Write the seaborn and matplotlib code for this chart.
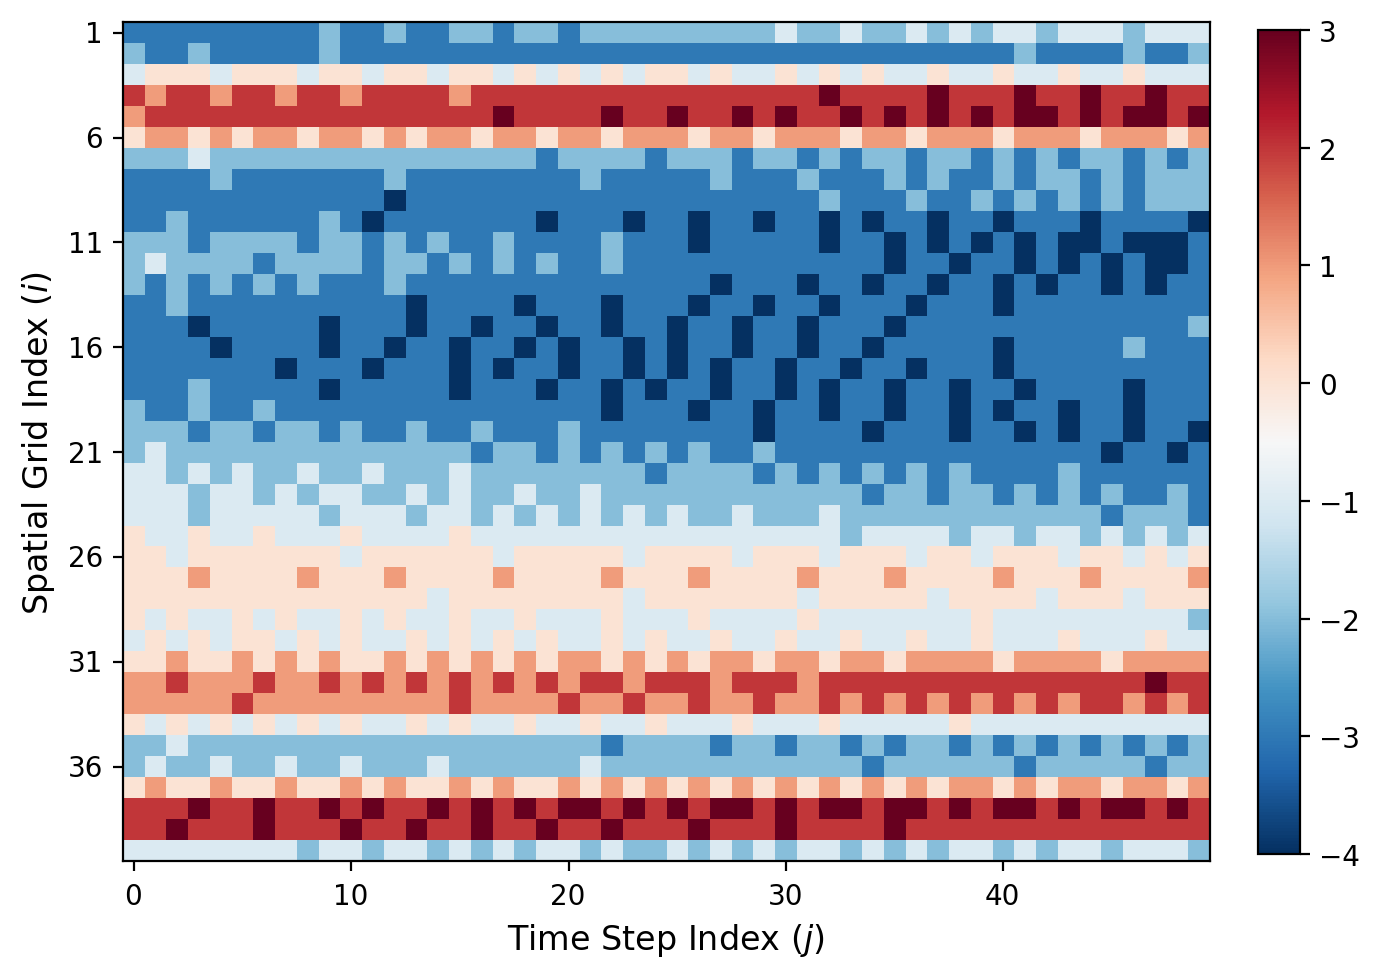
import numpy as np
import seaborn as sns
import matplotlib.pyplot as plt
from matplotlib.transforms import ScaledTranslation

# one row per spatial grid index, one column per time step
field = [
    [-3,-3,-3,-3,-3,-3,-3,-3,-3,-2, -3,-3,-2,-3,-3,-2,-2,-3,-2,-2, -3,-2,-2,-2,-2,-2,-2,-2,-2,-2, -1,-2,-2,-1,-2,-2,-1,-2,-1,-2, -1,-1,-2,-1,-1,-1,-2,-1,-1,-1],
    [-2,-3,-3,-2,-3,-3,-3,-3,-3,-2, -3,-3,-3,-3,-3,-3,-3,-3,-3,-3, -3,-3,-3,-3,-3,-3,-3,-3,-3,-3, -3,-3,-3,-3,-3,-3,-3,-3,-3,-3, -3,-2,-3,-3,-3,-3,-2,-3,-3,-2],
    [-1,0,0,0,-1,0,0,0,-1,0, 0,-1,0,0,-1,0,0,-1,0,-1, 0,-1,0,-1,0,0,-1,0,-1,-1, 0,-1,0,-1,0,-1,-1,0,-1,-1, 0,-1,-1,0,-1,-1,0,-1,-1,-1],
    [2,1,2,2,1,2,2,1,2,2, 1,2,2,2,2,1,2,2,2,2, 2,2,2,2,2,2,2,2,2,2, 2,2,3,2,2,2,2,3,2,2, 2,3,2,2,3,2,2,3,2,2],
    [1,2,2,2,2,2,2,2,2,2, 2,2,2,2,2,2,2,3,2,2, 2,2,3,2,2,3,2,2,3,2, 3,2,2,3,2,3,2,3,2,3, 2,3,3,2,3,2,3,3,2,3],
    [0,1,1,0,1,0,1,1,0,1, 1,0,1,0,1,1,0,1,1,0, 1,1,0,1,1,1,0,1,1,0, 1,1,1,0,1,1,0,1,1,1, 0,1,1,1,0,1,1,1,0,1],
    [-2,-2,-2,-1,-2,-2,-2,-2,-2,-2, -2,-2,-2,-2,-2,-2,-2,-2,-2,-3, -2,-2,-2,-2,-3,-2,-2,-2,-3,-2, -2,-3,-2,-3,-2,-2,-3,-2,-2,-3, -2,-3,-2,-3,-2,-2,-3,-2,-3,-2],
    [-3,-3,-3,-3,-2,-3,-3,-3,-3,-3, -3,-3,-2,-3,-3,-3,-3,-3,-3,-3, -3,-2,-3,-3,-3,-3,-3,-2,-3,-3, -3,-2,-3,-3,-3,-2,-3,-2,-3,-3, -2,-3,-2,-2,-3,-2,-3,-2,-2,-2],
    [-3,-3,-3,-3,-3,-3,-3,-3,-3,-3, -3,-3,-4,-3,-3,-3,-3,-3,-3,-3, -3,-3,-3,-3,-3,-3,-3,-3,-3,-3, -3,-3,-2,-3,-3,-3,-2,-3,-3,-2, -3,-2,-3,-2,-3,-2,-3,-2,-2,-2],
    [-3,-3,-2,-3,-3,-3,-3,-3,-3,-2, -3,-4,-3,-3,-3,-3,-3,-3,-3,-4, -3,-3,-3,-4,-3,-3,-4,-3,-3,-4, -3,-3,-4,-3,-4,-3,-3,-4,-3,-3, -4,-3,-3,-3,-4,-3,-3,-3,-3,-4],
    [-2,-2,-2,-3,-2,-2,-2,-2,-3,-2, -2,-3,-2,-3,-2,-3,-3,-2,-3,-3, -3,-3,-2,-3,-3,-3,-4,-3,-3,-3, -3,-3,-4,-3,-3,-4,-3,-4,-3,-4, -3,-4,-3,-4,-4,-3,-4,-4,-4,-3],
    [-2,-1,-2,-2,-2,-2,-3,-2,-2,-2, -2,-3,-2,-2,-3,-2,-3,-2,-3,-2, -3,-3,-2,-3,-3,-3,-3,-3,-3,-3, -3,-3,-3,-3,-3,-4,-3,-3,-4,-3, -3,-4,-3,-4,-3,-4,-3,-4,-4,-3],
    [-2,-3,-2,-3,-2,-3,-2,-3,-2,-3, -3,-3,-2,-3,-3,-3,-3,-3,-3,-3, -3,-3,-3,-3,-3,-3,-3,-4,-3,-3, -3,-4,-3,-3,-4,-3,-3,-4,-3,-3, -4,-3,-4,-3,-3,-4,-3,-4,-3,-3],
    [-3,-3,-2,-3,-3,-3,-3,-3,-3,-3, -3,-3,-3,-4,-3,-3,-3,-3,-4,-3, -3,-3,-4,-3,-3,-3,-4,-3,-3,-4, -3,-3,-4,-3,-3,-3,-4,-3,-3,-3, -4,-3,-3,-3,-3,-3,-3,-3,-3,-3],
    [-3,-3,-3,-4,-3,-3,-3,-3,-3,-4, -3,-3,-3,-4,-3,-3,-4,-3,-3,-4, -3,-3,-4,-3,-3,-4,-3,-3,-4,-3, -3,-4,-3,-3,-3,-4,-3,-3,-3,-3, -3,-3,-3,-3,-3,-3,-3,-3,-3,-2],
    [-3,-3,-3,-3,-4,-3,-3,-3,-3,-4, -3,-3,-4,-3,-3,-4,-3,-3,-4,-3, -4,-3,-3,-4,-3,-4,-3,-3,-4,-3, -3,-4,-3,-3,-4,-3,-3,-3,-3,-3, -4,-3,-3,-3,-3,-3,-2,-3,-3,-3],
    [-3,-3,-3,-3,-3,-3,-3,-4,-3,-3, -3,-4,-3,-3,-3,-4,-3,-4,-3,-3, -4,-3,-3,-4,-3,-4,-3,-4,-3,-3, -4,-3,-3,-4,-3,-3,-4,-3,-3,-3, -4,-3,-3,-3,-3,-3,-3,-3,-3,-3],
    [-3,-3,-3,-2,-3,-3,-3,-3,-3,-4, -3,-3,-3,-3,-3,-4,-3,-3,-3,-4, -3,-3,-4,-3,-4,-3,-3,-4,-3,-3, -4,-3,-4,-3,-3,-4,-3,-3,-4,-3, -3,-4,-3,-3,-3,-3,-4,-3,-3,-3],
    [-2,-3,-3,-2,-3,-3,-2,-3,-3,-3, -3,-3,-3,-3,-3,-3,-3,-3,-3,-3, -3,-3,-4,-3,-3,-3,-4,-3,-3,-4, -3,-3,-4,-3,-3,-4,-3,-3,-4,-3, -4,-3,-3,-4,-3,-3,-4,-3,-3,-3],
    [-2,-2,-2,-3,-2,-2,-3,-2,-2,-3, -2,-3,-3,-2,-3,-3,-2,-3,-3,-3, -2,-3,-3,-3,-3,-3,-3,-3,-3,-4, -3,-3,-3,-3,-4,-3,-3,-3,-4,-3, -3,-4,-3,-4,-3,-3,-4,-3,-3,-4],
    [-2,-1,-2,-2,-2,-2,-2,-2,-2,-2, -2,-2,-2,-2,-2,-2,-3,-2,-2,-3, -2,-3,-2,-3,-2,-3,-2,-3,-3,-2, -3,-3,-3,-3,-3,-3,-3,-3,-3,-3, -3,-3,-3,-3,-3,-4,-3,-3,-4,-3],
    [-1,-1,-2,-1,-2,-1,-2,-2,-1,-2, -2,-1,-2,-2,-2,-1,-2,-2,-2,-2, -2,-2,-2,-2,-3,-2,-2,-2,-2,-3, -2,-3,-2,-3,-2,-3,-2,-3,-2,-3, -3,-3,-3,-2,-3,-3,-3,-3,-3,-3],
    [-1,-1,-1,-2,-1,-1,-2,-1,-2,-1, -1,-2,-2,-1,-2,-1,-2,-2,-1,-2, -2,-1,-2,-2,-2,-2,-2,-2,-2,-2, -2,-2,-2,-2,-3,-2,-2,-3,-2,-2, -3,-2,-3,-2,-3,-2,-3,-3,-2,-3],
    [-1,-1,-1,-2,-1,-1,-1,-1,-1,-2, -1,-1,-1,-2,-1,-1,-2,-1,-2,-1, -2,-1,-2,-1,-2,-1,-2,-2,-1,-2, -2,-2,-1,-2,-2,-2,-2,-2,-2,-2, -2,-2,-2,-2,-2,-3,-2,-2,-2,-3],
    [0,-1,-1,0,-1,-1,0,-1,-1,-1, 0,-1,-1,-1,-1,0,-1,-1,-1,-1, -1,-1,-1,-1,-1,-1,-1,-1,-1,-1, -1,-1,-1,-2,-1,-1,-1,-1,-2,-1, -1,-2,-1,-1,-2,-1,-2,-1,-2,-1],
    [0,0,-1,0,0,0,0,0,0,0, -1,0,0,0,0,0,0,-1,0,0, 0,0,0,-1,0,0,0,0,-1,0, 0,0,-1,0,0,0,-1,0,0,-1, 0,0,0,-1,0,0,-1,0,-1,0],
    [0,0,0,1,0,0,0,0,1,0, 0,0,1,0,0,0,0,1,0,0, 0,0,1,0,0,0,1,0,0,0, 0,1,0,0,0,1,0,0,0,0, 1,0,0,0,1,0,0,0,0,1],
    [0,0,0,0,0,0,0,0,0,0, 0,0,0,0,-1,0,0,0,0,0, 0,0,0,-1,0,0,0,0,0,0, 0,-1,0,0,0,0,0,-1,0,0, 0,0,-1,0,0,0,-1,0,0,0],
    [0,-1,0,-1,-1,0,-1,0,-1,-1, 0,-1,0,-1,-1,0,-1,-1,0,-1, -1,-1,0,-1,-1,-1,0,-1,-1,-1, -1,0,-1,-1,-1,-1,-1,-1,-1,0, -1,-1,-1,-1,-1,-1,-1,-1,-1,-2],
    [-1,0,-1,0,-1,0,0,-1,0,-1, 0,-1,-1,0,-1,0,-1,0,-1,0, -1,-1,0,-1,0,-1,-1,0,-1,-1, 0,-1,-1,0,-1,-1,0,-1,-1,0, -1,-1,-1,0,-1,-1,-1,0,-1,-1],
    [0,0,1,0,0,1,0,1,0,1, 0,0,1,0,1,0,1,0,1,0, 1,1,0,1,0,1,0,1,1,0, 1,1,0,1,1,0,1,1,1,1, 0,1,1,1,1,0,1,1,1,1],
    [1,1,2,1,1,1,2,1,1,2, 1,2,1,2,1,2,1,2,1,2, 1,2,2,1,2,2,2,1,2,2, 2,1,2,2,2,2,2,2,2,2, 2,2,2,2,2,2,2,3,2,2],
    [1,1,1,1,1,2,1,1,1,1, 1,1,1,1,1,2,1,1,1,1, 2,1,1,2,1,1,2,1,1,2, 1,1,2,1,2,1,2,1,2,1, 2,1,2,1,2,2,1,2,1,2],
    [0,-1,0,-1,0,-1,0,-1,0,-1, 0,-1,-1,0,-1,0,-1,-1,0,-1, -1,0,-1,-1,0,-1,-1,-1,0,-1, -1,-1,0,-1,-1,-1,-1,-1,0,-1, -1,-1,-1,-1,-1,-1,-1,-1,-1,-1],
    [-2,-2,-1,-2,-2,-2,-2,-2,-2,-2, -2,-2,-2,-2,-2,-2,-2,-2,-2,-2, -2,-2,-3,-2,-2,-2,-2,-3,-2,-2, -3,-2,-2,-3,-2,-3,-2,-2,-3,-2, -3,-2,-3,-2,-3,-2,-3,-2,-3,-2],
    [-2,-1,-2,-2,-1,-2,-2,-1,-2,-2, -1,-2,-2,-2,-1,-2,-2,-2,-2,-2, -2,-1,-2,-2,-2,-2,-2,-2,-2,-2, -2,-2,-2,-2,-3,-2,-2,-2,-2,-2, -2,-3,-2,-2,-2,-2,-2,-3,-2,-2],
    [0,1,0,0,1,0,0,1,0,0, 1,0,1,0,0,1,0,1,0,0, 1,0,1,0,1,0,1,0,1,0, 1,0,1,0,1,0,1,0,1,1, 0,1,0,1,1,0,1,1,0,1],
    [2,2,2,3,2,2,3,2,2,3, 2,3,2,2,3,2,3,2,3,2, 3,3,2,3,2,3,2,3,3,2, 3,2,3,3,2,3,3,2,3,2, 3,3,2,3,2,3,3,2,3,2],
    [2,2,3,2,2,2,3,2,2,2, 3,2,2,3,2,2,3,2,2,3, 2,2,3,2,2,2,3,2,2,2, 3,2,2,2,2,3,2,2,2,2, 2,2,2,2,2,2,2,2,2,2],
    [-1,-1,-1,-1,-1,-1,-1,-1,-2,-1, -1,-2,-1,-1,-2,-1,-2,-1,-2,-1, -1,-2,-1,-2,-2,-1,-2,-1,-2,-1, -2,-1,-1,-2,-1,-2,-1,-2,-1,-1, -2,-1,-2,-1,-1,-2,-1,-1,-1,-2],
]
time_ticks = [0, 10, 20, 30, 40]
grid_ticks = [1, 6, 11, 16, 21, 26, 31, 36]
cbar_ticks = [-4, -3, -2, -1, 0, 1, 2, 3]

W, H = 1380, 977
fig = plt.figure(figsize=(W / 200, H / 200), dpi=200)
ax = fig.add_axes([123 / W, 1 - 861 / H, 1087 / W, 838.7 / H])
cax = fig.add_axes([1258 / W, 1 - 854 / H, 42 / W, 824 / H])

sns.heatmap(np.array(field), cmap='RdBu_r', vmin=-4, vmax=3, ax=ax, cbar_ax=cax,
            cbar_kws={'ticks': cbar_ticks})

# heatmap puts ticks on cell centres and hides the frame, so set these back
ax.set_xticks([t + 0.5 for t in time_ticks])
ax.set_xticklabels(time_ticks, rotation=0)
ax.set_yticks([t - 0.5 for t in grid_ticks])
ax.set_yticklabels(grid_ticks, rotation=0)
ax.set_xlabel('Time Step Index ($j$)', fontsize=12, labelpad=3)
ax.set_ylabel('Spatial Grid Index ($i$)', fontsize=12)
for spine in ax.spines.values():
    spine.set_visible(True)
cbar = ax.collections[0].colorbar
cbar.outline.set_visible(True)
cbar.outline.set_linewidth(0.8)

# text sits slightly lower in the original
nudge = ScaledTranslation(-0.7 / 200, -2.5 / 200, fig.dpi_scale_trans)
for t in ax.get_xticklabels() + ax.get_yticklabels() + [ax.xaxis.label]:
    t.set_transform(t.get_transform() + nudge)
ax.yaxis.label.set_transform(ax.yaxis.label.get_transform()
                             + ScaledTranslation(0.5 / 200, -1.5 / 200, fig.dpi_scale_trans))
for t in cax.get_yticklabels():
    t.set_transform(t.get_transform() + ScaledTranslation(-0.7 / 200, -1 / 200, fig.dpi_scale_trans))

plt.savefig('out.png', dpi=200)
